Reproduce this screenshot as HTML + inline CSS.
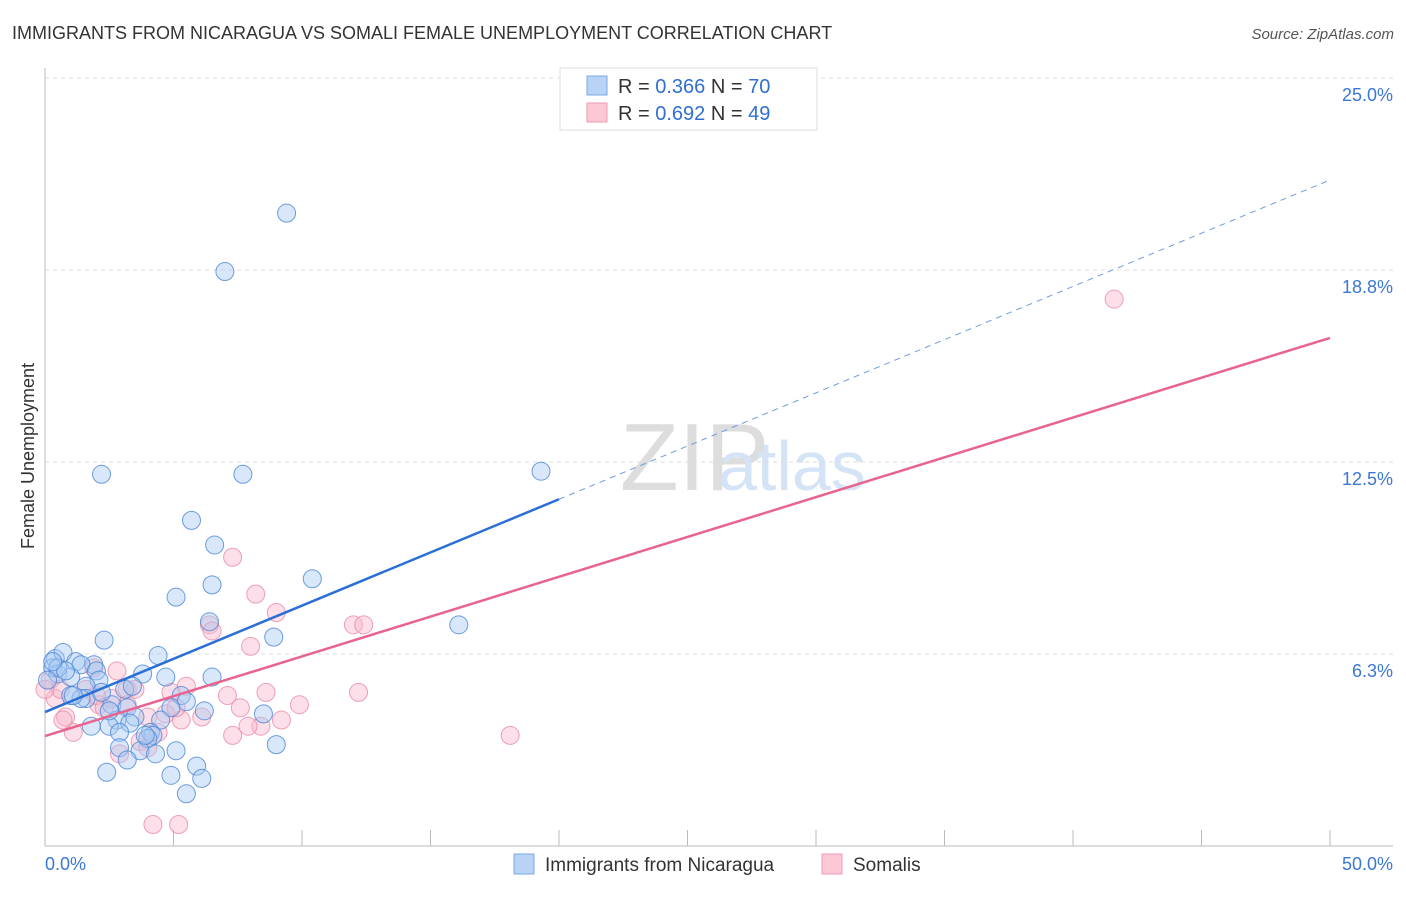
<!DOCTYPE html>
<html><head><meta charset="utf-8"><style>
body{margin:0;background:#fff;font-family:"Liberation Sans",sans-serif;}
svg text{font-family:"Liberation Sans",sans-serif;}
</style></head><body>
<svg id="chart" width="1406" height="892" xmlns="http://www.w3.org/2000/svg">
<text x="12" y="39" font-size="18" fill="#333">IMMIGRANTS FROM NICARAGUA VS SOMALI FEMALE UNEMPLOYMENT CORRELATION CHART</text>
<text x="1394" y="39" font-size="15" fill="#555" font-style="italic" text-anchor="end">Source: ZipAtlas.com</text>
<text x="620" y="490" font-size="96" fill="#ddd" font-family="Liberation Serif">ZIP</text>
<text x="718" y="490" font-size="70" fill="#d4e3f5">atlas</text>
<text transform="translate(34,456) rotate(-90)" font-size="18" fill="#333" text-anchor="middle">Female Unemployment</text>
<g id="grid"></g><g id="marks"></g>
<g>
<rect x="560" y="68" width="257" height="62" fill="#fff" stroke="#ddd"/>
<rect x="587" y="76" width="20" height="19" fill="#b8d3f5" stroke="#7aa7e3"/>
<rect x="587" y="103" width="20" height="19" fill="#fcc8d6" stroke="#ef9ab3"/>
<text x="618" y="93" font-size="20" fill="#333">R = <tspan fill="#2f6fd1">0.366</tspan>   N = <tspan fill="#2f6fd1">70</tspan></text>
<text x="618" y="120" font-size="20" fill="#333">R = <tspan fill="#2f6fd1">0.692</tspan>   N = <tspan fill="#2f6fd1">49</tspan></text>
</g>
<rect x="514" y="854" width="20" height="20" fill="#b8d3f5" stroke="#7aa7e3"/>
<text x="545" y="871" font-size="19" fill="#333">Immigrants from Nicaragua</text>
<rect x="822" y="854" width="20" height="20" fill="#fcc8d6" stroke="#ef9ab3"/>
<text x="853" y="871" font-size="19" fill="#333">Somalis</text>
</svg>
<script>
const yTicks=[6.25,12.5,18.75,25];
const yTickLabels=["6.3%","12.5%","18.8%","25.0%"];
const xTickLabels=["0.0%","50.0%"];
const blueX=[9.4,7.0,7.7,2.2,19.3,5.7,6.6,6.5,5.1,10.4,6.4,16.1,2.3,8.9,4.4,0.4,0.7,1.2,1.9,1.4,2.0,3.8,4.7,0.3,0.5,1.0,6.5,2.1,1.6,3.1,3.4,5.3,5.5,1.6,1.0,2.6,3.2,3.5,6.2,8.5,4.9,2.8,3.3,4.5,1.8,2.5,4.1,2.9,4.2,4.0,9.0,2.9,5.1,3.7,4.3,2.4,5.9,4.9,6.1,5.5,0.5,0.1,1.4,1.1,0.8,2.2,2.5,3.9,3.2,0.3];
const blueY=[20.6,18.7,12.1,12.1,12.2,10.6,9.8,8.5,8.1,8.7,7.3,7.2,6.7,6.8,6.2,6.1,6.3,6.0,5.9,5.9,5.7,5.6,5.5,5.8,5.6,5.5,5.5,5.4,5.2,5.1,5.2,4.9,4.7,4.8,4.9,4.6,4.5,4.2,4.4,4.3,4.5,4.1,4.0,4.1,3.9,3.9,3.7,3.7,3.6,3.5,3.3,3.2,3.1,3.1,3.0,2.4,2.6,2.3,2.2,1.7,5.8,5.4,4.8,4.9,5.7,5.0,4.4,3.6,2.8,6.0];
const pinkX=[41.6,7.3,8.2,9.0,6.4,12.0,12.4,8.0,2.8,1.9,3.2,3.5,4.9,5.5,7.1,8.6,12.2,9.9,3.2,2.1,0.4,0.8,1.1,4.0,4.7,5.3,6.1,7.6,9.2,8.4,7.9,7.3,18.1,2.9,3.7,4.2,5.2,0.2,0.6,1.6,2.6,4.4,4.0,5.1,2.0,2.3,6.5,0.7,0.0];
const pinkY=[17.8,9.4,8.2,7.6,7.2,7.2,7.2,6.5,5.7,5.8,5.1,5.1,5.0,5.2,4.9,5.0,5.0,4.6,4.6,4.6,4.8,4.2,3.7,4.2,4.3,4.1,4.2,4.5,4.1,3.9,3.9,3.6,3.6,3.0,3.4,0.7,0.7,5.4,5.1,5.1,4.8,3.7,3.2,4.5,4.9,4.5,7.0,4.1,5.1];
const trendIntercept=[4.36,3.58];
const trendSlope=[0.3464,0.2592];
const blueSolidEnd=[20];
const NS="http://www.w3.org/2000/svg";
const X=v=>45+v*25.7, Y=v=>846-v*30.72;
const grid=document.getElementById('grid'), marks=document.getElementById('marks');
function mk(tag,attrs,parent){const e=document.createElementNS(NS,tag);for(const k in attrs)e.setAttribute(k,attrs[k]);parent.appendChild(e);return e;}
let ax=mk('line',{x1:45,y1:68,x2:45,y2:846,stroke:'#bbb'},grid);


let bx=mk('line',{x1:45,y1:846,x2:1393,y2:846,stroke:'#bbb'},grid);


yTicks.forEach((t,i)=>{
 let l=mk('line',{x1:45,x2:1393,y1:Y(t),y2:Y(t),stroke:'#ddd','stroke-dasharray':'4,4'},grid);
 
 
 let tx=mk('text',{x:1393,y:Y(t)+23,'font-size':18,fill:'#3a78d4','text-anchor':'end'},grid);
 tx.textContent=yTickLabels[i];
 
 
});
for(let i=1;i<=10;i++){
 let l=mk('line',{x1:X(i*5),x2:X(i*5),y1:830,y2:846,stroke:'#bbb'},grid);
 
 
}
[[0,'start',45],[1,'end',1393]].forEach(([i,a,x])=>{
 let tx=mk('text',{x:x,y:870,'font-size':18,fill:'#3a78d4','text-anchor':a},grid);
 tx.textContent=xTickLabels[i];
 
 
});
function pts(xs,ys,fill,stroke,name){xs.forEach((x,i)=>{
 let c=mk('circle',{cx:X(x),cy:Y(ys[i]),r:9,fill:fill,'fill-opacity':0.45,stroke:stroke,'stroke-opacity':0.8,'stroke-width':1},marks);
 
 
});}
pts(pinkX,pinkY,'#f9b9cb','#ea8aa8','somalis-point');
pts(blueX,blueY,'#a9c9f2','#4a86d8','nicaragua-point');
let be=blueSolidEnd[0];
let l1=mk('line',{x1:X(0),y1:Y(trendIntercept[0]),x2:X(be),y2:Y(trendIntercept[0]+trendSlope[0]*be),stroke:'#2a6fd6','stroke-width':2.5},marks);


let l2=mk('line',{x1:X(be),y1:Y(trendIntercept[0]+trendSlope[0]*be),x2:X(50),y2:Y(trendIntercept[0]+trendSlope[0]*50),stroke:'#6d9de0','stroke-width':1,'stroke-dasharray':'6,5'},marks);


let l3=mk('line',{x1:X(0),y1:Y(trendIntercept[1]),x2:X(50),y2:Y(trendIntercept[1]+trendSlope[1]*50),stroke:'#e8648f','stroke-width':2.5},marks);


</script>
</body></html>
